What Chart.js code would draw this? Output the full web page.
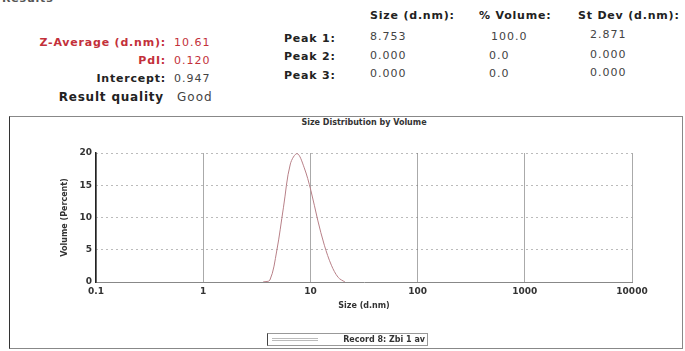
<!DOCTYPE html>
<html>
<head>
<meta charset="utf-8">
<script src="https://cdn.jsdelivr.net/npm/chart.js@4.4.1/dist/chart.umd.min.js"></script>
<style>
  html, body { margin: 0; padding: 0; background: #fff; }
  body { width: 685px; height: 351px; position: relative; overflow: hidden; font-family: "DejaVu Sans", sans-serif; color: #222; }
  .t { position: absolute; line-height: 14px; white-space: nowrap; font-size: 11px; letter-spacing: 0.8px; }
  .b { font-weight: bold; }
  .r { text-align: right; }
  .red { color: #c3303a; }
  .v { font-weight: normal; color: #444; letter-spacing: 1px; }
  #box { position: absolute; left: 9px; top: 116px; width: 672px; height: 231px; border: 1px solid #888; border-left-color: #333; }
  #wrap { position: absolute; left: 10px; top: 117px; width: 671px; height: 231px; }
  #title { position: absolute; left: 96px; width: 536px; top: 117px; text-align: center; font: bold 8px "DejaVu Sans"; color: #333; line-height: 12px; }
  #legend { position: absolute; left: 267px; top: 333px; width: 159px; height: 11px; border: 1px solid #999; border-left-color: #444; }
  #legend .ln { position: absolute; left: 4px; top: 4px; width: 46px; height: 1px; border-top: 1px solid #bbb; border-bottom: 1px solid #bbb; }
  #legend .tx { position: absolute; right: 2px; top: 0; font: bold 8px "DejaVu Sans"; line-height: 11px; color: #333; }
</style>
</head>
<body>
<div class="t b" style="left:2px;top:-8px;color:#555">Results</div>

<div class="t b red r" style="right:519px;top:36px">Z-Average (d.nm):</div>
<div class="t v red" style="left:174px;top:36px;color:#c3303a">10.61</div>
<div class="t b red r" style="right:519px;top:54px">PdI:</div>
<div class="t v red" style="left:174px;top:54px;color:#c3303a">0.120</div>
<div class="t b r" style="right:519px;top:72px">Intercept:</div>
<div class="t v" style="left:174px;top:72px">0.947</div>
<div class="t b r" style="right:521px;top:90px;font-size:12px">Result quality</div>
<div class="t v" style="left:177px;top:90px;font-size:12px">Good</div>

<div class="t b" style="left:284px;top:32px">Peak 1:</div>
<div class="t b" style="left:284px;top:50px">Peak 2:</div>
<div class="t b" style="left:284px;top:69px">Peak 3:</div>

<div class="t b" style="left:370px;top:9px">Size (d.nm):</div>
<div class="t v" style="left:370px;top:30px">8.753</div>
<div class="t v" style="left:370px;top:49px">0.000</div>
<div class="t v" style="left:370px;top:67px">0.000</div>

<div class="t b" style="left:479px;top:9px">% Volume:</div>
<div class="t v" style="left:491px;top:30px">100.0</div>
<div class="t v" style="left:489px;top:49px">0.0</div>
<div class="t v" style="left:489px;top:67px">0.0</div>

<div class="t b" style="left:578px;top:9px">St Dev (d.nm):</div>
<div class="t v" style="left:590px;top:28px">2.871</div>
<div class="t v" style="left:590px;top:48px">0.000</div>
<div class="t v" style="left:590px;top:66px">0.000</div>

<div id="box"></div>
<div id="title">Size Distribution by Volume</div>
<div id="wrap"><canvas id="sizeChart"></canvas></div>
<div id="legend"><div class="ln"></div><div class="tx">Record 8: Zbi 1 av</div></div>

<script>
// ============ DATA ============
const sizes = [3.62, 4.19, 4.85, 5.61, 6.50, 7.53, 8.72, 10.1, 11.7, 13.5, 15.7, 18.2, 21.0];
const volumes = [0, 0.3, 4.8, 11.6, 18.3, 19.9, 17.8, 14.2, 9.6, 5.7, 2.6, 0.7, 0];
const xTicks = [0.1, 1, 10, 100, 1000, 10000];
const xTickLabels = ['0.1', '1', '10', '100', '1000', '10000'];
const yTicks = [0, 5, 10, 15, 20];

const tickFont = { family: 'DejaVu Sans', size: 9, weight: 'bold' };

// ============ CHART ============
function initChart() {
    const canvas = document.getElementById('sizeChart');
    new Chart(canvas.getContext('2d'), {
        type: 'line',
        data: {
            datasets: [{
                label: 'Record 8: Zbi 1 av',
                data: sizes.map((s, i) => ({ x: s, y: volumes[i] })),
                borderColor: '#b88088',
                borderWidth: 1,
                pointRadius: 0,
                tension: 0.35,
                fill: false
            }]
        },
        options: {
            responsive: true,
            maintainAspectRatio: false,
            animation: false,
            layout: { padding: { top: 36, right: 49, left: 0, bottom: 37 } },
            plugins: { legend: { display: false }, tooltip: { enabled: false } },
            scales: {
                x: {
                    type: 'logarithmic',
                    min: 0.1,
                    max: 10000,
                    afterBuildTicks: scale => { scale.ticks = xTicks.map(v => ({ value: v })); },
                    afterFit: scale => { scale.height = 29; },
                    ticks: {
                        font: tickFont, color: '#333', padding: 4, maxRotation: 0, autoSkip: false,
                        callback: (v) => xTickLabels[xTicks.indexOf(v)] ?? ''
                    },
                    grid: { color: '#aaa', lineWidth: 1, drawTicks: false },
                    border: { color: '#888', width: 1 },
                    title: {
                        display: true, text: 'Size (d.nm)', color: '#333',
                        font: { family: 'DejaVu Sans', size: 8, weight: 'bold' },
                        padding: { top: 0, bottom: 0 }
                    }
                },
                y: {
                    min: 0,
                    max: 20,
                    afterBuildTicks: scale => { scale.ticks = yTicks.map(v => ({ value: v })); },
                    afterFit: scale => { scale.width = 86; },
                    ticks: { font: tickFont, color: '#333', padding: 4 },
                    grid: { color: '#777', lineWidth: 1, drawTicks: false },
                    border: { color: '#222', width: 1.5, dash: [1, 4] },
                    title: {
                        display: true, text: 'Volume (Percent)', color: '#333',
                        font: { family: 'DejaVu Sans', size: 8, weight: 'bold' },
                        padding: 50
                    }
                }
            }
        }
    });
}

initChart();
</script>
</body>
</html>
